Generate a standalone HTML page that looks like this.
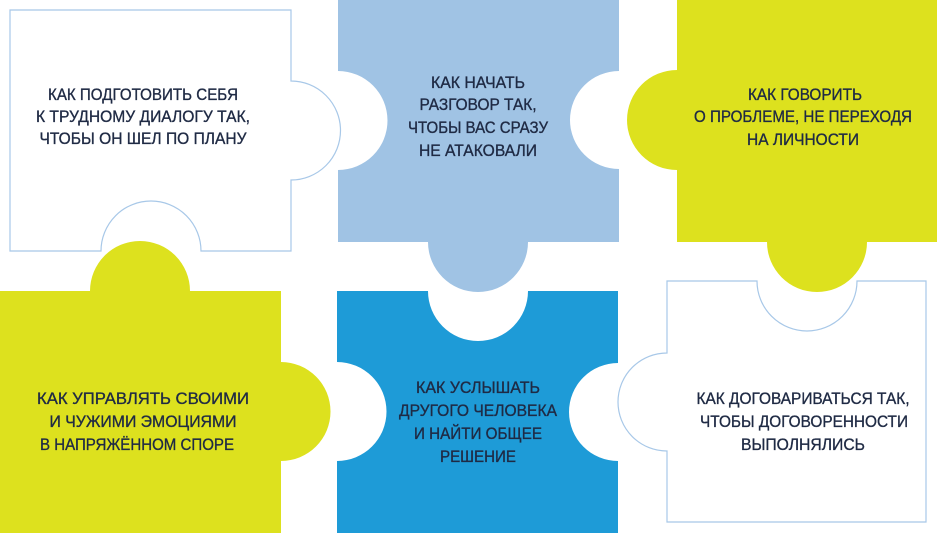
<!DOCTYPE html>
<html><head><meta charset="utf-8"><style>
html,body{margin:0;padding:0;background:#fff;}
svg{display:block;}
text{font-family:"Liberation Sans",sans-serif;font-size:17px;fill:#1f2a44;stroke:#1f2a44;stroke-width:0.35;text-anchor:middle;}
</style></head><body>
<svg width="937" height="533" viewBox="0 0 937 533" xmlns="http://www.w3.org/2000/svg">
<path d="M338,0 H619 V71 A49,49 0 0 0 619,169 V242 H528 A50,50 0 0 1 428,242 H338 V170 A49.5,49.5 0 0 0 338,71 Z" fill="#a0c3e4"/>
<path d="M677,0 H937 V242 H867 A50,50 0 0 1 767,242 H677 V170 A50,50 0 0 1 677,70 Z" fill="#dde11e"/>
<path d="M0,291 H90 A50,50 0 0 1 190,291 H281 V362 A49.5,49.5 0 0 1 281,461 V533 H0 Z" fill="#dde11e"/>
<path d="M337,291 H428 A50,50 0 0 0 528,291 H618 V363 A49,49 0 0 0 618,461 V533 H337 V461 A49.5,49.5 0 0 0 337,362 Z" fill="#1e9bd7"/>
<path d="M10,10 H291 V81 A49.5,49.5 0 0 1 291,180 V251 H201 A50,50 0 0 0 101,251 H10 Z" fill="#fff" stroke="#a8c8e8" stroke-width="1.2"/>
<path d="M667,281 H757 A50,50 0 0 0 857,281 H926 V522 H667 V451 A49,49 0 0 1 667,353 Z" fill="#fff" stroke="#a8c8e8" stroke-width="1.2"/>
<text x="143" y="100" textLength="190" lengthAdjust="spacingAndGlyphs">КАК ПОДГОТОВИТЬ СЕБЯ</text>
<text x="143" y="122" textLength="214" lengthAdjust="spacingAndGlyphs">К ТРУДНОМУ ДИАЛОГУ ТАК,</text>
<text x="143" y="144" textLength="207" lengthAdjust="spacingAndGlyphs">ЧТОБЫ ОН ШЕЛ ПО ПЛАНУ</text>
<text x="478" y="88" textLength="94" lengthAdjust="spacingAndGlyphs">КАК НАЧАТЬ</text>
<text x="478" y="110" textLength="117" lengthAdjust="spacingAndGlyphs">РАЗГОВОР ТАК,</text>
<text x="478" y="133" textLength="140" lengthAdjust="spacingAndGlyphs">ЧТОБЫ ВАС СРАЗУ</text>
<text x="478" y="156" textLength="118" lengthAdjust="spacingAndGlyphs">НЕ АТАКОВАЛИ</text>
<text x="805" y="100" textLength="114" lengthAdjust="spacingAndGlyphs">КАК ГОВОРИТЬ</text>
<text x="803" y="122" textLength="218" lengthAdjust="spacingAndGlyphs">О ПРОБЛЕМЕ, НЕ ПЕРЕХОДЯ</text>
<text x="803" y="145" textLength="112" lengthAdjust="spacingAndGlyphs">НА ЛИЧНОСТИ</text>
<text x="143" y="404" textLength="212" lengthAdjust="spacingAndGlyphs">КАК УПРАВЛЯТЬ СВОИМИ</text>
<text x="143" y="427" textLength="187" lengthAdjust="spacingAndGlyphs">И ЧУЖИМИ ЭМОЦИЯМИ</text>
<text x="137" y="450" textLength="194" lengthAdjust="spacingAndGlyphs">В НАПРЯЖЁННОМ СПОРЕ</text>
<text x="478" y="393" textLength="124" lengthAdjust="spacingAndGlyphs">КАК УСЛЫШАТЬ</text>
<text x="478" y="416" textLength="158" lengthAdjust="spacingAndGlyphs">ДРУГОГО ЧЕЛОВЕКА</text>
<text x="478" y="439" textLength="128" lengthAdjust="spacingAndGlyphs">И НАЙТИ ОБЩЕЕ</text>
<text x="478" y="462" textLength="76" lengthAdjust="spacingAndGlyphs">РЕШЕНИЕ</text>
<text x="803" y="404" textLength="213" lengthAdjust="spacingAndGlyphs">КАК ДОГОВАРИВАТЬСЯ ТАК,</text>
<text x="804" y="427" textLength="208" lengthAdjust="spacingAndGlyphs">ЧТОБЫ ДОГОВОРЕННОСТИ</text>
<text x="803" y="450" textLength="124" lengthAdjust="spacingAndGlyphs">ВЫПОЛНЯЛИСЬ</text>
</svg>
</body></html>
